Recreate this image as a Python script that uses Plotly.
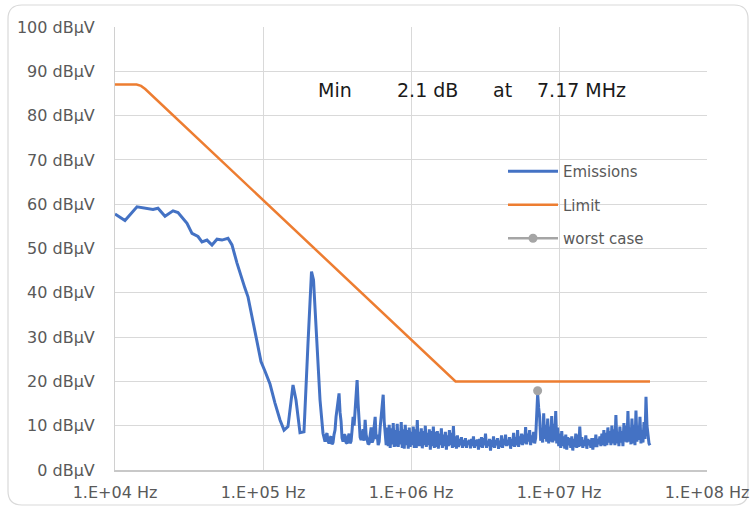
import numpy as np
import plotly.graph_objects as go

# ---------------- data ----------------
# Emissions: hand-read points (low-frequency part)
emis_freq_a = [1.00e4, 1.168e4, 1.408e4, 1.806e4, 1.952e4, 2.177e4, 2.466e4, 2.665e4,
               3.066e4, 3.314e4, 3.638e4, 3.870e4, 4.183e4, 4.522e4, 4.889e4, 5.284e4,
               5.800e4, 6.173e4, 6.673e4, 6.990e4, 7.556e4, 7.916e4, 8.426e4, 9.109e4,
               9.694e4, 1.032e5, 1.115e5, 1.205e5, 1.303e5, 1.387e5, 1.475e5, 1.595e5,
               1.671e5, 1.778e5, 1.892e5, 2.014e5, 2.127e5, 2.194e5, 2.317e5, 2.428e5,
               2.543e5]
emis_level_a = [57.8, 56.3, 59.4, 58.8, 59.1, 57.3, 58.5, 58.1,
                55.7, 53.4, 52.7, 51.5, 51.9, 50.8, 52.1, 51.9,
                52.3, 50.8, 46.7, 44.4, 41.0, 39.1, 34.6, 28.6,
                24.5, 22.3, 19.4, 15.1, 11.3, 9.0, 9.8, 19.2,
                15.8, 8.4, 8.6, 28.6, 44.8, 42.9, 28.6, 15.8,
                8.3]

# Emissions: receiver sweep (log-spaced frequency points), hand-read levels
sweep_start_hz = 2.624e5
sweep_stop_hz = 4.12e7
sweep_level = [
    6.4, 7.8, 8.3, 6.5, 6.0, 7.2, 7.6, 5.8, 6.2, 8.0,
    9.0, 12.0, 14.0, 16.0, 17.3, 13.0, 11.0, 7.2, 6.4, 8.0,
    7.8, 6.2, 6.0, 7.4, 8.2, 6.0, 6.5, 9.0, 12.0, 10.0,
    14.3, 18.0, 20.3, 15.0, 12.0, 7.4, 6.8, 8.6, 9.2, 6.6,
    11.3, 8.0, 7.0, 5.8, 6.0, 8.4, 9.6, 6.2, 6.8, 9.8,
    12.0, 7.0, 8.0, 5.6, 6.4, 9.6, 12.5, 15.0, 17.0, 11.0,
    8.3, 5.6, 9.6, 5.4, 10.2, 5.0, 9.4, 5.8, 10.6, 5.2,
    9.0, 5.3, 10.4, 5.2, 8.8, 5.8, 10.8, 5.0, 9.2, 4.8,
    10.2, 5.6, 9.0, 4.8, 9.6, 5.2, 8.6, 5.6, 9.8, 5.0,
    9.2, 5.0, 11.3, 5.4, 8.6, 5.4, 9.4, 4.9, 8.8, 5.6,
    10.0, 5.2, 8.4, 5.6, 9.2, 4.6, 8.8, 5.4, 9.8, 5.0,
    8.6, 5.2, 8.8, 4.8, 8.2, 5.6, 9.4, 5.0, 8.0, 5.4,
    8.6, 4.6, 7.8, 5.4, 9.0, 5.6, 8.4, 5.0, 9.9, 5.2,
    7.6, 4.8, 7.8, 5.2, 7.0, 5.6, 7.4, 5.0, 6.8, 5.4,
    7.2, 5.0, 6.6, 5.8, 6.8, 4.9, 7.0, 5.4, 7.6, 5.0,
    6.8, 5.4, 6.9, 4.6, 7.0, 5.2, 7.4, 5.0, 7.2, 5.6,
    8.2, 5.0, 6.6, 5.4, 7.0, 4.4, 6.8, 5.2, 7.6, 5.0,
    6.8, 5.6, 7.2, 4.8, 6.6, 5.2, 7.8, 5.0, 7.0, 5.6,
    8.0, 5.4, 6.8, 5.6, 7.4, 4.8, 7.0, 5.4, 8.4, 5.2,
    7.4, 5.6, 9.0, 5.2, 7.6, 5.8, 8.2, 5.6, 8.0, 6.0,
    9.7, 5.8, 8.2, 6.4, 9.0, 5.6, 7.8, 6.2, 8.6, 6.0,
    7.2, 12.0, 17.2, 14.0, 12.0, 6.6, 8.0, 6.2, 12.8, 7.0,
    10.2, 6.4, 11.6, 6.0, 9.8, 6.4, 12.2, 6.2, 10.4, 6.6,
    13.3, 6.0, 9.6, 5.4, 8.2, 5.0, 8.8, 5.4, 7.6, 4.8,
    8.0, 4.6, 7.4, 5.6, 7.2, 5.0, 7.6, 4.4, 7.0, 5.2,
    8.2, 5.0, 8.0, 5.2, 9.8, 5.4, 7.4, 5.0, 6.8, 5.4,
    7.8, 4.8, 7.0, 5.6, 6.8, 5.0, 7.2, 4.6, 7.2, 5.2,
    8.0, 5.2, 7.0, 5.8, 7.6, 5.4, 8.2, 5.6, 9.0, 5.4,
    8.4, 5.6, 9.6, 6.2, 8.8, 5.6, 10.0, 6.0, 9.2, 5.6,
    12.4, 6.0, 8.6, 5.4, 9.8, 6.2, 8.8, 5.4, 10.6, 6.4,
    10.0, 6.2, 13.3, 6.4, 9.6, 5.8, 11.6, 6.0, 10.2, 5.6,
    13.4, 6.4, 10.0, 6.8, 12.0, 6.0, 9.0, 6.2, 10.8, 7.0,
    16.5, 10.0, 7.0, 6.0, 5.6,
]

# Limit line
limit_freq = [1.0e4, 1.4e4, 1.5e4, 1.6e4, 2.0e6, 4.12e7]
limit_level = [87.0, 87.0, 86.7, 86.0, 20.0, 20.0]

# Worst case
worst_freq_mhz = 7.17
worst_margin_db = 2.1
worst_level = 17.9

# Axes
x_tickvals = [1e4, 1e5, 1e6, 1e7, 1e8]
x_ticktext = ["1.E+04 Hz", "1.E+05 Hz", "1.E+06 Hz", "1.E+07 Hz", "1.E+08 Hz"]
y_suffix = " dBµV"

# ---------------- figure ----------------
W, H = 750, 507
ML, MR, MT, MB = 115, 43, 27, 37
PW, PH = W - ML - MR, H - MT - MB


def px_x(p):
    return (p - ML) / PW


def px_y(p):
    return (H - MB - p) / PH


sweep_freq = np.geomspace(sweep_start_hz, sweep_stop_hz, len(sweep_level))
emis_freq = list(emis_freq_a) + list(sweep_freq)
emis_level = list(emis_level_a) + list(sweep_level)

fig = go.Figure()
fig.add_trace(go.Scatter(x=emis_freq, y=emis_level, mode="lines", name="Emissions",
                         line=dict(color="#4472C4", width=3), legendgroup="e"))
fig.add_trace(go.Scatter(x=limit_freq, y=limit_level, mode="lines", name="Limit",
                         line=dict(color="#ED7D31", width=2.5), legendgroup="l"))
fig.add_trace(go.Scatter(x=[worst_freq_mhz * 1e6], y=[worst_level], mode="lines+markers",
                         name="worst case", line=dict(color="#A5A5A5", width=2.5),
                         marker=dict(color="#A5A5A5", size=9), legendgroup="w"))

tick_font = dict(family="DejaVu Sans", size=16, color="#595959")

fig.update_layout(
    width=W, height=H, autosize=False,
    margin=dict(l=ML, r=MR, t=MT, b=MB),
    paper_bgcolor="white", plot_bgcolor="white",
    showlegend=True,
    legend=dict(x=px_x(503), y=px_y(155), xanchor="left", yanchor="top",
                font=dict(family="DejaVu Sans", size=15, color="#595959"),
                bgcolor="rgba(0,0,0,0)", tracegroupgap=11, itemwidth=50),
    xaxis=dict(type="log", range=[4, 8], tickvals=x_tickvals, ticktext=x_ticktext,
               showgrid=True, gridcolor="#d9d9d9", gridwidth=1,
               showline=True, linecolor="#c8c8c8", linewidth=1.5, automargin=False,
               ticks="", tickfont=tick_font, ticklabelstandoff=7, zeroline=False),
    yaxis=dict(range=[0, 100], dtick=10, ticksuffix=y_suffix, automargin=False,
               showgrid=True, gridcolor="#d9d9d9", gridwidth=1,
               showline=True, linecolor="#d0d0d0", linewidth=1,
               ticks="", tickfont=tick_font, ticklabelstandoff=16, zeroline=False),
)

# Min margin annotation
ann_font = dict(family="DejaVu Sans", size=19, color="#1a1a1a")
pieces = [("Min", 316), (f"{worst_margin_db} dB", 395), ("at", 491), (f"{worst_freq_mhz} MHz", 535)]
for txt, left in pieces:
    fig.add_annotation(text=txt, xref="paper", yref="paper", x=px_x(left), y=px_y(90),
                       xanchor="left", yanchor="middle", showarrow=False, font=ann_font)

# Rounded chart frame
x0, x1 = px_x(8), px_x(748)
y0, y1 = px_y(505), px_y(5)
rx, ry = 14 / PW, 14 / PH
path = (f"M {x0+rx},{y1} L {x1-rx},{y1} Q {x1},{y1} {x1},{y1-ry} L {x1},{y0+ry} "
        f"Q {x1},{y0} {x1-rx},{y0} L {x0+rx},{y0} Q {x0},{y0} {x0},{y0+ry} "
        f"L {x0},{y1-ry} Q {x0},{y1} {x0+rx},{y1} Z")
fig.add_shape(type="path", path=path, xref="paper", yref="paper",
              line=dict(color="#d9d9d9", width=1.2), layer="below")

fig.write_html("out.html")
